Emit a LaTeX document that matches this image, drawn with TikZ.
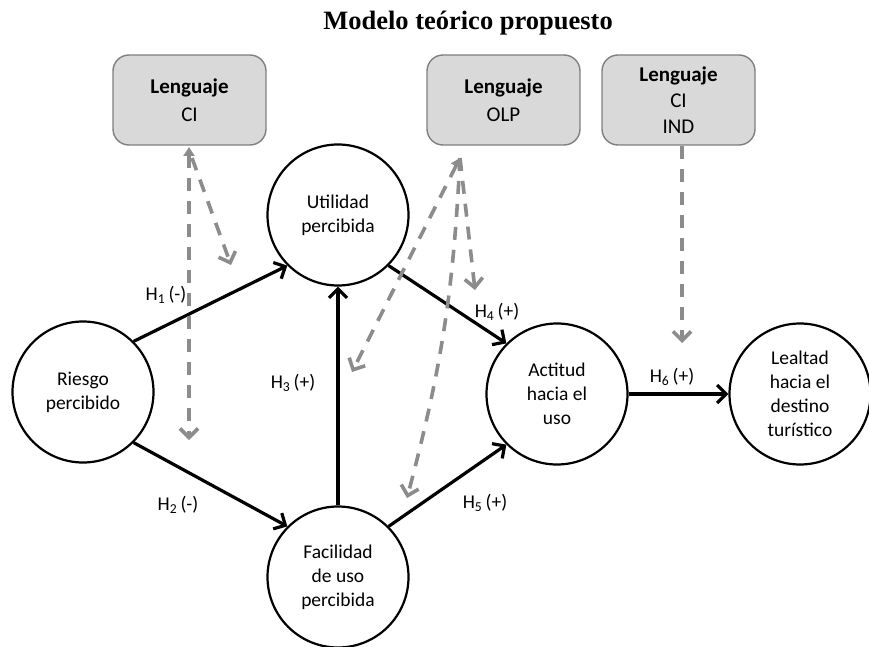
\documentclass[tikz,border=0pt]{standalone}
\usepackage{fontspec}
\setmainfont{Carlito}
\newfontfamily\titlefont{Liberation Serif}
\usetikzlibrary{arrows.meta}
\definecolor{dgray}{HTML}{8C8C8C}
\definecolor{boxfill}{HTML}{D9D9D9}
\definecolor{boxline}{HTML}{7F7F7F}
\begin{document}
\begin{tikzpicture}[x=1pt,y=-1pt,
  concept/.style={circle,draw=black,line width=2.2pt,minimum size=141pt,inner sep=0pt,align=center,font=\fontsize{19.5}{24}\selectfont},
  langbox/.style={draw=boxline,fill=boxfill,line width=1.4pt,rounded corners=16pt,minimum width=153pt,minimum height=90pt,align=center,font=\fontsize{21}{26}\selectfont},
  hyp/.style={black,line width=3.2pt,-{Straight Barb[length=9pt,width=18pt]}},
  moder/.style={dgray,line width=3.6pt,dash pattern=on 13pt off 10pt,-{Straight Barb[length=9pt,width=18pt]}},
  trimoder/.style={moder,{Triangle[length=9pt,width=11pt]}-{Straight Barb[length=9pt,width=18pt]}},
  hlabel/.style={font=\fontsize{19.5}{24}\selectfont,inner sep=0pt}]
\useasboundingbox (0,0) rectangle (869,647);

\node (title) at (468,23) {\titlefont\bfseries\fontsize{26.5}{30}\selectfont Modelo teórico propuesto};

\node[langbox] (b1) at (189.5,100) {\textbf{Lenguaje}\\[2pt]CI};
\node[langbox] (b2) at (503.5,100) {\textbf{Lenguaje}\\[2pt]OLP};
\node[langbox] (b3) at (678.5,100) {\textbf{Lenguaje}\\CI\\IND};

\node[concept] (R) at (83,392) {Riesgo\\percibido};
\node[concept] (U) at (338,215) {Utilidad\\percibida};
\node[concept] (F) at (338,577) {Facilidad\\de uso\\percibida};
\node[concept] (A) at (557,394) {Actitud\\hacia el\\uso};
\node[concept] (L) at (800,394) {Lealtad\\hacia el\\destino\\turístico};

\draw[hyp] (R.45) -- (U.225);
\draw[hyp] (R.-45) -- (F.135);
\draw[hyp] (F.north) -- (U.south);
\draw[hyp] (U.-45) -- (A.135);
\draw[hyp] (F.45) -- (A.225);
\draw[hyp] (A.east) -- (L.west);

\node[hlabel] (h1) at (166,295) {H\textsubscript{1}\,(-)};
\node[hlabel] (h2) at (178,505) {H\textsubscript{2}\,(-)};
\node[hlabel] (h3) at (293,383) {H\textsubscript{3}\,(+)};
\node[hlabel] (h4) at (497,312) {H\textsubscript{4}\,(+)};
\node[hlabel] (h5) at (485,503) {H\textsubscript{5}\,(+)};
\node[hlabel] (h6) at (672,377) {H\textsubscript{6}\,(+)};

\coordinate (c0) at (189,147);
\coordinate (c0b) at (192,158);
\coordinate (c1) at (189,440);
\coordinate (c2) at (231,265);
\draw[trimoder] (c0) -- (c1);
\draw[moder] (c0b) -- (c2);

\coordinate (o0) at (460,158);
\coordinate (o1) at (352,372);
\coordinate (o2) at (407,498);
\coordinate (o3) at (475,290);
\draw[trimoder] (o0) -- (o1);
\draw[moder] (o0) to[bend left=6] (o2);
\draw[moder] (o0) -- (o3);

\coordinate (i0) at (682,146);
\coordinate (i1) at (682,343);
\draw[moder] (i0) -- (i1);
\end{tikzpicture}
\end{document}
